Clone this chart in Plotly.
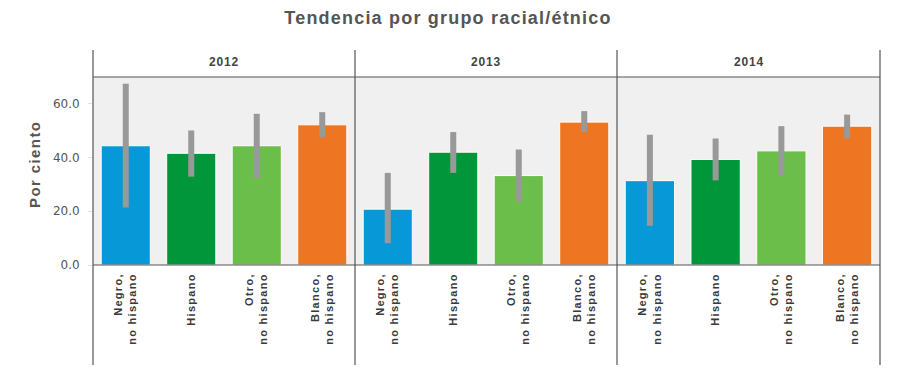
import plotly.graph_objects as go

years = ["2012", "2013", "2014"]
categories = ["Negro,<br>no hispano", "Hispano", "Otro,<br>no hispano", "Blanco,<br>no hispano"]
bar_colors = ["#0798D8", "#009639", "#6CBE4A", "#EE7623"]

values = {
    "2012": [44.4, 41.6, 44.4, 52.2],
    "2013": [20.8, 42.0, 33.3, 53.2],
    "2014": [31.4, 39.3, 42.5, 51.7],
}
upper = {
    "2012": [67.5, 50.1, 56.3, 56.9],
    "2013": [34.3, 49.5, 43.0, 57.3],
    "2014": [48.5, 47.1, 51.7, 56.0],
}
lower = {
    "2012": [21.4, 32.9, 32.4, 47.5],
    "2013": [8.1, 34.3, 23.6, 49.5],
    "2014": [14.6, 31.5, 33.3, 47.2],
}
y_ticks = [0, 20, 40, 60]

# page has an 8px body margin; figure is placed at (8, 8)
OFF = 8
W, H = 888, 357
PL, PR, PT, PB = 93, 880, 77, 265  # plot area in page pixels
ML = PL - OFF
MR = W - (PR - OFF)
MT = PT - OFF
MB = H - (PB - OFF)
pw = W - ML - MR
ph = H - MT - MB

def px_x(x):
    return (x - OFF - ML) / pw

def px_y(y):
    return (PB - y) / ph

def spaced(text, ls):
    return "<br>".join(f'<span style="letter-spacing:{ls}px">{part}</span>'
                       for part in text.split("<br>"))

fig = go.Figure()
bounds = [93, 355, 617, 880]
font_family = "DejaVu Sans"
arial = "Liberation Sans, Arial, sans-serif"
line_col = "#555555"

for i, yr in enumerate(years):
    xa = "x" if i == 0 else f"x{i+1}"
    v = values[yr]
    fig.add_trace(go.Bar(
        x=categories, y=v,
        xaxis=xa, yaxis="y",
        width=0.75,
        marker=dict(color=bar_colors, line=dict(color="#ffffff", width=1)),
        error_y=dict(
            type="data", symmetric=False,
            array=[u - b for u, b in zip(upper[yr], v)],
            arrayminus=[b - l for l, b in zip(lower[yr], v)],
            color="#999999", thickness=6, width=0,
        ),
        showlegend=False,
        hoverinfo="skip",
    ))
    d0 = px_x(bounds[i])
    d1 = px_x(bounds[i + 1])
    key = "xaxis" if i == 0 else f"xaxis{i+1}"
    fig.layout[key] = dict(
        domain=[d0, d1], anchor="y",
        type="category",
        tickmode="array",
        tickvals=categories,
        ticktext=[spaced(c, 1.3) for c in categories],
        tickangle=-90,
        tickfont=dict(family=arial, size=11, color="#3a3a3a", weight="bold"),
        ticklabelstandoff=5,
        showgrid=False, zeroline=False, showline=False,
        ticks="", fixedrange=True,
    )
    fig.add_annotation(
        x=(d0 + d1) / 2, y=px_y(62), xref="paper", yref="paper",
        xanchor="center", yanchor="middle",
        text=spaced(yr, 0.8), showarrow=False,
        font=dict(family=arial, size=12, color="#444444", weight="bold"),
    )

fig.add_annotation(
    x=px_x(34), y=px_y(164), xref="paper", yref="paper",
    xanchor="center", yanchor="middle", textangle=-90,
    text=spaced("Por ciento", 1.4), showarrow=False,
    font=dict(family=arial, size=15, color="#555555", weight="bold"),
)

fig.update_layout(
    width=W, height=H,
    margin=dict(l=ML, r=MR, t=MT, b=MB),
    paper_bgcolor="#ffffff",
    plot_bgcolor="#f0f0f0",
    bargap=0.25,
    title=dict(
        text=spaced("Tendencia por grupo racial/étnico", 1.2),
        xref="paper", x=px_x(448), xanchor="center",
        yref="container", y=1 - (18 - OFF) / H, yanchor="middle",
        font=dict(family=arial, size=18, color="#555555", weight="bold"),
    ),
    yaxis=dict(
        range=[0, 70],
        tickvals=y_ticks,
        ticktext=[f"{t:.1f}" for t in y_ticks],
        tickfont=dict(family=font_family, size=12, color="#555555"),
        ticks="outside", ticklen=4, tickcolor="#e2e2e2",
        ticklabelstandoff=6,
        showgrid=False, zeroline=False, showline=False,
        fixedrange=True,
    ),
)

shapes = []
for bx in bounds:
    shapes.append(dict(type="line", xref="paper", yref="paper",
                       x0=px_x(bx), x1=px_x(bx), y0=px_y(50), y1=px_y(365),
                       line=dict(color=line_col, width=1.2)))
for by in [77, 265]:
    shapes.append(dict(type="line", xref="paper", yref="paper",
                       x0=px_x(93), x1=px_x(880), y0=px_y(by), y1=px_y(by),
                       line=dict(color=line_col, width=1.2)))
fig.update_layout(shapes=shapes)

fig.write_html("out.html")
